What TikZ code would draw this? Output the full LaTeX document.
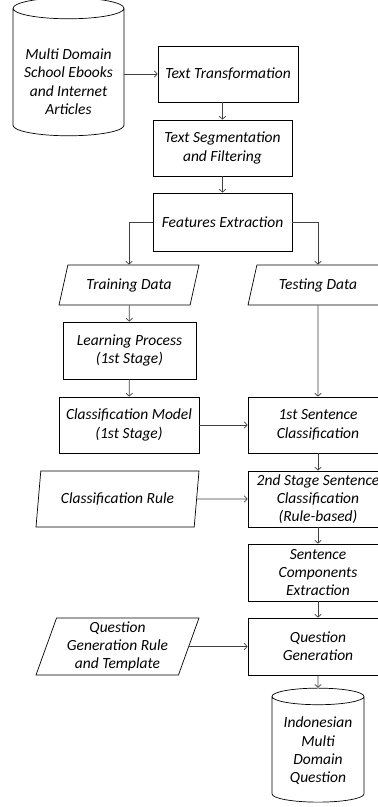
\documentclass[tikz,border=0pt]{standalone}
\usepackage{fontspec}
\setmainfont{Carlito}
\usetikzlibrary{arrows.meta,positioning,shapes.geometric}
\tikzset{
	arr/.style={draw=black!75,line width=0.7pt,-{Straight Barb[length=3pt,width=6.5pt]}},
	box/.style={draw,rectangle,align=center,line width=0.7pt,minimum width=140pt,minimum height=56pt},
	datain/.style={draw,trapezium,trapezium left angle=#1,trapezium right angle=180-#1,
		trapezium stretches body,align=center,line width=0.7pt},
	datain/.default=70,
	store/.style={draw,cylinder,shape border rotate=90,align=center,line width=0.7pt}
}

\begin{document}
\begin{tikzpicture}[x=1pt,y=-1pt,font=\fontsize{15.5}{18.3}\selectfont\itshape]
			\useasboundingbox (0,0) rectangle (378,807);
			\clip (0,0) rectangle (378,807);
			\node[store,shape aspect=0.22,minimum width=111pt,minimum height=138pt] (src) at (68.5,74) {\mbox{}\\[8pt]Multi Domain\\School Ebooks\\and Internet\\Articles};
			\node[box] (trans) at (228,74) {Text Transformation};
			\node[box,minimum width=139pt] (seg) at (222.5,148) {Text Segmentation\\and Filtering};
			\node[box,minimum width=139pt,minimum height=58pt] (feat) at (222.5,222) {Features Extraction};
			\node[datain=66,minimum width=140pt,minimum height=40pt] (train) at (129,285) {Training Data};
			\node[datain=66,minimum width=140pt,minimum height=40pt] (test) at (318,285) {Testing Data};
			\node[box,minimum width=133pt,minimum height=57pt] (learn) at (129.5,350.5) {Learning Process\\(1st Stage)};
			\node[box] (model) at (129,425) {Classification Model\\(1st Stage)};
			\node[box] (first) at (318,425) {1st Sentence\\Classification};
			\node[datain=76,minimum width=163pt,minimum height=56pt] (rule) at (117.5,499) {Classification Rule};
			\node[box] (second) at (318,499) {2nd Stage Sentence\\Classification\\(Rule-based)};
			\node[box,minimum height=57pt] (comp) at (318,572.5) {Sentence\\Components\\Extraction};
			\node[datain,minimum width=163pt,minimum height=57pt] (qrule) at (117.5,646.5) {Question\\Generation Rule\\and Template};
			\node[box,minimum height=57pt] (qgen) at (318,646.5) {Question\\Generation};
			\node[store,shape aspect=0.22,minimum width=92pt,minimum height=114pt] (out) at (318,751) {Indonesian\\Multi\\Domain\\Question};
			\draw[arr] (trans.west -| src.east) -- (trans.west);
			\draw[arr] (seg.north |- trans.south) -- (seg.north);
			\draw[arr] (seg) -- (feat);
			\draw[arr] (feat.west) -| (train.north);
			\draw[arr] (feat.east) -| (test.north);
			\draw[arr] (train) -- (learn);
			\draw[arr] (learn) -- (model);
			\draw[arr] (model) -- (first);
			\draw[arr] (test) -- (first);
			\draw[arr] (first) -- (second);
			\draw[arr] (rule.east) -- (second.west);
			\draw[arr] (second) -- (comp);
			\draw[arr] (comp) -- (qgen);
			\draw[arr] (qrule.east) -- (qgen.west);
			\draw[arr] (qgen) -- (out);
		\end{tikzpicture}
\end{document}
